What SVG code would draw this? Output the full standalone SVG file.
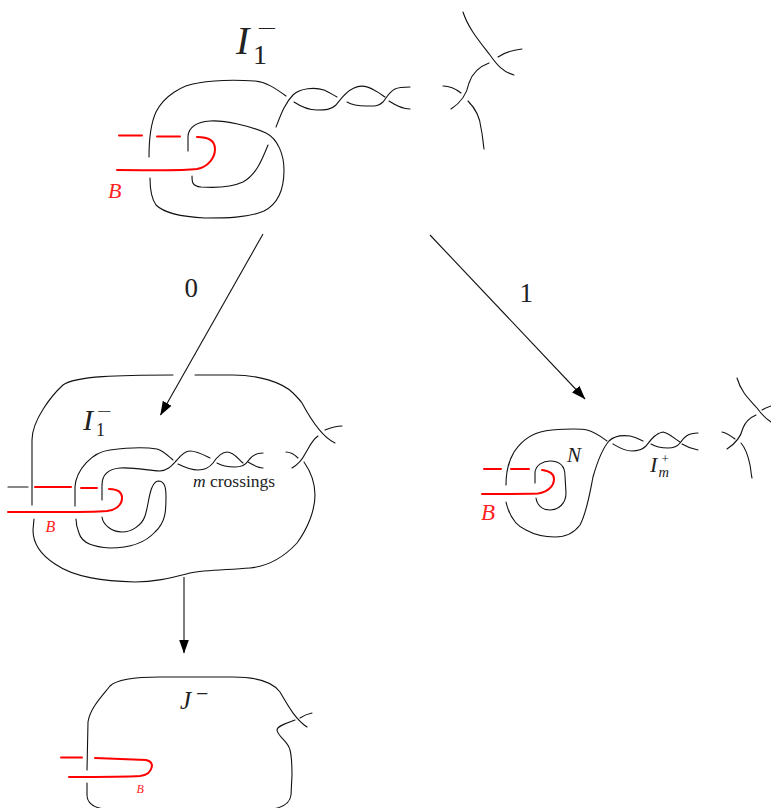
<svg xmlns="http://www.w3.org/2000/svg" width="771" height="808" viewBox="0 0 771 808">
<style>
.k{fill:none;stroke:#111;stroke-width:1.1;stroke-linecap:round}
.r{fill:none;stroke:#f00;stroke-width:2;stroke-linecap:round}
.a{fill:none;stroke:#111;stroke-width:1.1}
text{font-family:"Liberation Serif","Times New Roman",serif;fill:#222}
.i{font-style:italic}
.t{fill:#f22;font-style:italic}
</style>
<defs>
<marker id="ah" viewBox="0 0 14 10" refX="13.5" refY="5" markerWidth="14" markerHeight="10" markerUnits="userSpaceOnUse" orient="auto"><path d="M0 0L14 5L0 10Z" fill="#000"/></marker>
</defs>
<g id="connectors">
<path class="a" marker-end="url(#ah)" d="M263 234L160.500 415"/>
<path class="a" marker-end="url(#ah)" d="M430 235L585 399"/>
<path class="a" marker-end="url(#ah)" d="M184 577L184 653"/>
<text x="184.500" y="297" font-size="27">0</text>
<text x="519.500" y="302" font-size="27">1</text>
</g>
<g id="node-top">
<path class="k" d="M149 157C149 140 150 125 156 112C164 96 182 85 198 83C215 80 240 80 255 81C266 82 275 88 286 96"/>
<path class="k" d="M276 127C281 114 285 103 293 95C300 88 315 87 324 90C329 92 333 95 337 97"/>
<path class="k" d="M294 102C300 106 308 110 317 110C325 110 331 110 336 105C341 99 345 92 354 88C362 84 369 87 374 90C378 92 382 95 385 97"/>
<path class="k" d="M347 102C352 105 358 106 366 106C372 106 378 107 383 102C387 97 389 92 395 89C399 87 404 87 410 87"/>
<path class="k" d="M389 101C395 105 402 109 410 109"/>
<path class="k" d="M188 151L188 136C189 126 197 122 210 121C225 120 250 126 266 133C278 139 284 155 284 170C284 190 278 204 264 211C248 218 225 218 205 218C185 217 165 214 156 205C151 198 150 190 150 178"/>
<path class="k" d="M192 176C192 182 192 186 201 187C215 188 232 187 243 182C256 175 262 160 268 145"/>
<path class="r" d="M119 135.500L142 135.500M157 136.500L180 136.500"/>
<path class="r" d="M197 137C207 137 215 140 215 149C215 158 208 167 197 169C180 171 150 170 117 170"/>
<text class="t" x="108" y="198" font-size="22">B</text>
<text class="i" x="236" y="54" font-size="40">I</text>
<text x="253" y="64" font-size="28">1</text>
<text transform="translate(257,34.700) scale(1.75,1)" font-size="20">−</text>
</g>
<g id="node-top-right">
<path class="k" d="M463 12C468 28 480 42 490 55C497 65 503 72 514 75"/>
<path class="k" d="M498 57C505 52 513 50 522 49"/>
<path class="k" d="M489 63C478 67 472 74 469 83C467 93 462 102 451 109"/>
<path class="k" d="M443 86C450 86 456 89 461 93"/>
<path class="k" d="M468 101C475 108 480 118 481 128C483 137 483 143 484 149"/>
</g>
<g id="node-left">
<path class="k" d="M32 505L32 440C32 420 52 395 63 385C75 376 120 375 173 375"/>
<path class="k" d="M195 375L233 375C258 375 282 382 293 393C297 397 300 400 302 403C310 418 322 437 335 443"/>
<path class="k" d="M342 426C335 426 330 428 325 430"/>
<path class="k" d="M318 436C311 441 309 448 305 454C302 460 297 465 292 468"/>
<path class="k" d="M286 452C291 452 295 455 298 458"/>
<path class="k" d="M304 462C311 472 315 482 315 495C315 510 308 528 297 543C285 556 270 566 250 568C225 570 205 570 190 573C170 578 155 582 135 582C105 581 75 578 55 564C38 553 33 540 33 530L34 519"/>
<path class="k" d="M75 506L75 487C76 470 92 452 110 450C125 448 145 447 157 449C164 451 168 456 173 460"/>
<path class="k" d="M102 500L102 485C102 474 109 469 120 468C135 467 150 471 160 471C169 470 172 465 177 460C181 455 185 451 190 451C197 451 204 455 210 458"/>
<path class="k" d="M178 464C184 467 190 470 198 470C204 470 209 468 213 463C217 457 221 452 227 452C234 452 238 459 243 463"/>
<path class="k" d="M217 463C222 466 228 467 235 467C241 467 245 466 248 461C252 455 256 453 263 453"/>
<path class="k" d="M248 462C253 465 258 468 263 468"/>
<path class="k" d="M102 517C103 525 112 532 122 532C132 532 142 525 145 516C149 505 149 483 158 481C165 481 166 488 166 497C166 510 166 522 155 532C145 543 130 548 110 548C95 547 82 544 79 533C77 528 76 524 76 519"/>
<path class="k" d="M8 487L28 487"/>
<path class="r" d="M35 487L71 487M81 488L97 488"/>
<path class="r" d="M109 489C117 489 122 492 122 498C122 505 116 510 107 511C90 512.500 50 512 8 512"/>
<text class="t" x="45.500" y="532" font-size="16">B</text>
<text class="i" x="83" y="429.500" font-size="30">I</text>
<text x="96" y="436" font-size="18">1</text>
<text transform="translate(97,415.500) scale(1.9,1)" font-size="14">−</text>
<text x="193" y="487" font-size="17.500"><tspan class="i">m</tspan> crossings</text>
</g>
<g id="node-right">
<path class="k" d="M506 485C506 472 508 462 514 452C522 440 535 431 552 430C565 429 578 428 587 430C595 432 600 436 607 441"/>
<path class="k" d="M506 502C509 515 514 525 526 530C535 535 545 537 555 537C566 537 574 533 580 525C587 512 590 492 593 477C597 463 602 449 609 441C614 436 622 435 630 436C635 437 639 439 643 441"/>
<path class="k" d="M613 444C618 447 624 451 632 451C638 451 642 450 646 446C650 441 655 433 663 432C669 433 675 439 680 442"/>
<path class="k" d="M651 444C656 447 662 448 668 448C674 448 677 447 680 443C684 437 688 433 698 433"/>
<path class="k" d="M682 444C687 447 692 449 698 450"/>
<path class="k" d="M535 483L535 472C536 465 543 461 550 461C560 461 565 466 565 476L566 493C566 503 559 510 550 510C542 510 537 505 536 498"/>
<path class="r" d="M484 469L501 469M511 469L529 469"/>
<path class="r" d="M542 470C550 471 554 474 554 479C554 486 548 492 538 493.500C525 494 505 494 482 494"/>
<text class="t" x="481" y="520" font-size="23">B</text>
<text class="i" x="567" y="462" font-size="21">N</text>
<text class="i" x="650" y="472" font-size="22">I</text>
<text class="i" x="658.500" y="477" font-size="14.500">m</text>
<text x="661.500" y="462.500" font-size="13">+</text>
</g>
<g id="node-right-2">
<path class="k" d="M737 378C741 392 749 399 757 408C762 415 765 418 771 422"/>
<path class="k" d="M762 410C765 408 768 407 771 406"/>
<path class="k" d="M756 415C749 418 745 423 743 428C741 436 735 444 727 449"/>
<path class="k" d="M722 432C727 433 731 436 735 439"/>
<path class="k" d="M741 443C747 450 749 460 750 465C751 470 751 474 752 478"/>
</g>
<g id="node-bottom">
<path class="k" d="M87 770L88 722C90 708 103 695 110 686C117 679 135 677 160 677L233 677C255 677 272 681 280 692C287 704 295 719 307 727"/>
<path class="k" d="M312 713C307 714 303 716 300 718"/>
<path class="k" d="M295 720C287 723 277 726 277 730C278 737 288 741 290 750C292 758 292 765 292 775L291 795C290 803 283 807 274 808.800L103 808.800C92 807 87 803 87 795L87 783"/>
<path class="r" d="M61 757.500L82 757.500"/>
<path class="r" d="M95 758L146 760C151 761 152 763 152 766C151 772 148 775 140 776C125 777 100 777 69 777"/>
<text class="t" x="136.500" y="793" font-size="12">B</text>
<text font-size="25" y="709"><tspan class="i" x="180">J</tspan><tspan x="196" y="701" font-size="22">−</tspan></text>
</g>
</svg>
